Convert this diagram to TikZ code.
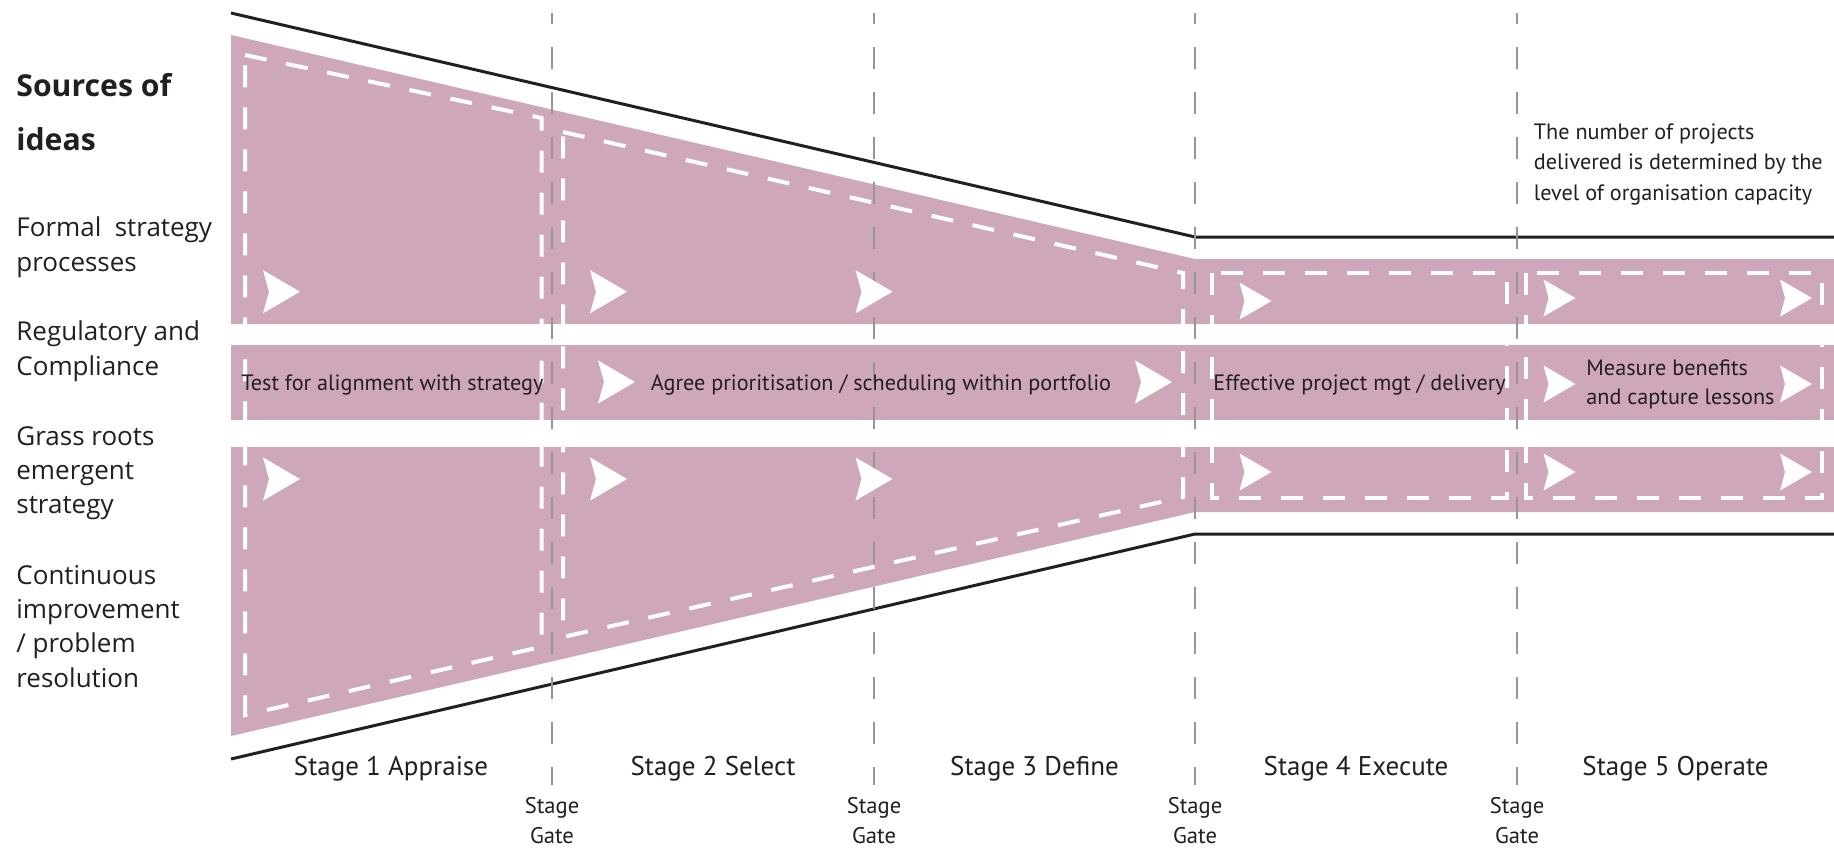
\documentclass[tikz,border=0pt]{standalone}
\usepackage{fontspec}
\setmainfont{PT Sans}
\newfontfamily\srcfont{Open Sans}
\definecolor{bandpink}{RGB}{207,167,186}
\definecolor{ink}{RGB}{35,31,32}
\definecolor{gategrey}{RGB}{150,150,150}
\tikzset{
  band/.style={fill=bandpink},
  rail/.style={draw=ink, line width=1.5pt, line join=miter},
  gateline/.style={draw=gategrey, line width=0.8pt, dash pattern=on 11pt off 11.5pt, dash phase=5.7pt},
  phasebox/.style={draw=white, line width=2pt, dash pattern=on 11pt off 10pt},
  bigchev/.pic={\fill[white] (-37,-21.6) -- (0,0) -- (-37,21.6) -- (-31,0) -- cycle;},
  smallchev/.pic={\fill[white] (-32,-18.5) -- (0,0) -- (-32,18.5) -- (-27,0) -- cycle;},
  % multi-line nodes are placed by the baseline of their last line
  srclabel/.style={font=\srcfont\fontsize{13}{17.15}\selectfont, text=ink, anchor=base west, align=left, inner sep=0pt},
  heading/.style={font=\srcfont\bfseries\fontsize{15.1}{27}\selectfont, text=ink, anchor=base west, align=left, inner sep=0pt},
  bandtext/.style={font=\fontsize{11.1}{14.5}\selectfont, text=ink, inner sep=0pt},
  stagetext/.style={font=\fontsize{13.5}{15}\selectfont, text=ink, anchor=base, inner sep=0pt},
  gatetext/.style={font=\fontsize{11.3}{15}\selectfont, text=ink, anchor=base, align=center, inner sep=0pt},
}
\begin{document}
\begin{tikzpicture}[x=0.5pt, y=-0.5pt]
\useasboundingbox (0,0) rectangle (1834,847);
\fill[white] (0,0) rectangle (1834,847);

% funnel bands
\fill[band] (231,35) -- (1195,259) -- (1834,259) -- (1834,324) -- (231,324) -- cycle;
\fill[band] (231,345) rectangle (1834,420);
\fill[band] (231,447) -- (1834,447) -- (1834,512) -- (1195,512) -- (231,736) -- cycle;

% outer funnel rails
\draw[rail] (231,13) -- (1195,237) -- (1834,237);
\draw[rail] (231,759) -- (1195,534) -- (1834,534);

% stage gates
\foreach \gx [count=\i] in {552,874,1195,1517}{
  \coordinate (gate\i top) at (\gx,13);
  \coordinate (gate\i bot) at (\gx,785);
  \draw[gateline] (gate\i top) -- (gate\i bot);
  \node[gatetext] (gate\i lbl) at (\gx,843) {Stage\\Gate};
}

% dashed stage boxes
\draw[phasebox] (245,55) -- (541.7,118) -- (541.7,646.7) -- (245,715) -- cycle;
\draw[phasebox] (563,132) -- (1183,273) -- (1183,497) -- (563,637) -- cycle;
\draw[phasebox] (1212,273) rectangle (1506.5,498);
\draw[phasebox] (1526,273) rectangle (1821.5,498);

% flow chevrons
\foreach \cx/\cy in {300/291.7, 627/291.7, 892.5/291.7, 300/479, 627/479, 892.5/479, 635/382, 1172/382}
  \pic at (\cx,\cy) {bigchev};
\foreach \cx/\cy in {1271.5/301, 1271.5/472, 1575.5/298, 1812/298, 1575.5/384, 1812/384, 1575.5/472, 1812/472}
  \pic at (\cx,\cy) {smallchev};

% texts inside the middle band
\node[bandtext, anchor=base west] (t1) at (241,390) {Test for alignment with strategy};
\node[bandtext, anchor=base] (t2) at (881,390) {Agree prioritisation / scheduling within portfolio};
\node[bandtext, anchor=base west] (t3) at (1213,390) {Effective project mgt / delivery};
\node[bandtext, anchor=base west, align=left] (t4) at (1586,404) {Measure benefits\\and capture lessons};

% capacity note
\node[bandtext, anchor=base west, align=left, font=\fontsize{11.1}{15.2}\selectfont] (cap) at (1533.5,200)
  {The number of projects\\delivered is determined by the\\level of organisation capacity};

% sources of ideas
\node[heading] (src) at (16,150) {Sources of\\ideas};
\node[srclabel] (s1) at (16,271) {Formal\ \ strategy\\processes};
\node[srclabel] (s2) at (16,375.2) {Regulatory and\\Compliance};
\node[srclabel] (s3) at (16,513.6) {Grass roots\\emergent\\strategy};
\node[srclabel] (s4) at (16,687) {Continuous\\improvement\\/ problem\\resolution};

% stage names
\node[stagetext] (st1) at (391,775) {Stage 1 Appraise};
\node[stagetext] (st2) at (713,775) {Stage 2 Select};
\node[stagetext] (st3) at (1034.5,775) {Stage 3 Define};
\node[stagetext] (st4) at (1356,775) {Stage 4 Execute};
\node[stagetext] (st5) at (1675.5,775) {Stage 5 Operate};
\end{tikzpicture}
\end{document}
